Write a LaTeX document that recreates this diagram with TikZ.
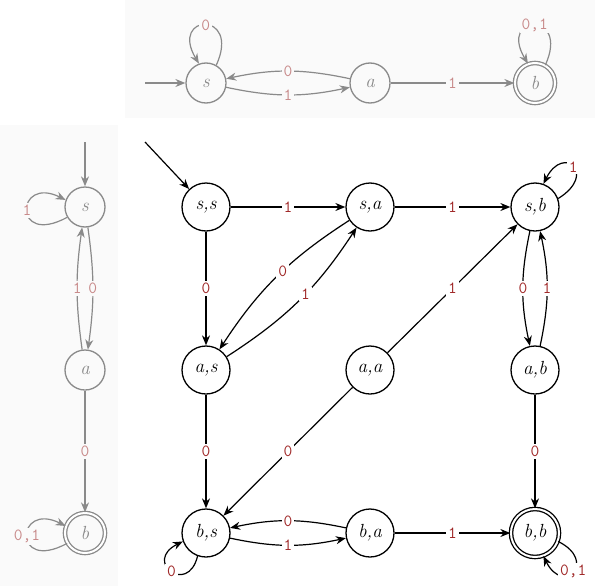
\documentclass[tikz,border=0pt]{standalone}
\usepackage{fontspec}
\usetikzlibrary{arrows.meta}
\definecolor{lab}{HTML}{A02828}
\definecolor{glab}{HTML}{C88A8A}
\definecolor{gline}{HTML}{8A8A8A}
\definecolor{bgc}{HTML}{FAFAFA}
\begin{document}
\begin{tikzpicture}[x=1pt,y=-1pt,
 st/.style={circle,draw,line width=1.3pt,minimum size=48pt,inner sep=0pt,font=\itshape\fontsize{19}{20}\selectfont},
 acc/.style={double,double distance=2pt},
 gst/.style={circle,draw=gline,line width=1.3pt,minimum size=40pt,inner sep=0pt,text=gline,font=\itshape\fontsize{19}{20}\selectfont},
 ed/.style={-{Stealth[length=10pt,width=8pt]},line width=1.2pt},
 ged/.style={ed,draw=gline},
 lb/.style={fill=white,text=lab,font=\ttfamily\fontsize{17}{18}\selectfont,inner sep=2pt},
 glb/.style={fill=bgc,text=glab,font=\ttfamily\fontsize{17}{18}\selectfont,inner sep=2pt}]
\useasboundingbox (0,0) rectangle (601,586);
\fill[bgc] (125,0) rectangle (595,118);
\fill[bgc] (0,125) rectangle (118,586);
% top automaton
\node[gst] (ts) at (206,83) {s};
\node[gst] (ta) at (370,83) {a};
\node[gst,acc] (tb) at (535,83) {b};
\coordinate (tin) at (145,83);
\draw[ged] (tin) -- (ts);
\draw[ged] (ts) to[bend right=12] node[glb]{1} (ta);
\draw[ged] (ta) to[bend right=12] node[glb]{0} (ts);
\draw[ged] (ta) -- node[glb]{1} (tb);
\draw[ged] (ts.60) .. controls +(25,-55) and +(-30,-50) .. node[glb,pos=0.5]{0} (ts.110);
\draw[ged] (tb.60) .. controls +(25,-55) and +(-30,-50) .. node[glb,pos=0.5]{0,1} (tb.110);
% left automaton
\node[gst] (ls) at (85,207) {s};
\node[gst] (la) at (85,370) {a};
\node[gst,acc] (lb) at (85,533) {b};
\coordinate (lin) at (85,142);
\draw[ged] (lin) -- (ls);
\draw[ged] (ls) to[bend left=8] node[glb]{0} (la);
\draw[ged] (la) to[bend left=8] node[glb]{1} (ls);
\draw[ged] (la) -- node[glb]{0} (lb);
\draw[ged] (ls.210) .. controls +(-55,30) and +(-50,-25) .. node[glb,pos=0.5]{1} (ls.160);
\draw[ged] (lb.210) .. controls +(-55,30) and +(-50,-25) .. node[glb,pos=0.5]{0,1} (lb.160);
% product
\node[st] (ss) at (206,207) {s,s};
\node[st] (sa) at (370,207) {s,a};
\node[st] (sb) at (535,207) {s,b};
\node[st] (as) at (206,370) {a,s};
\node[st] (aa) at (370,370) {a,a};
\node[st] (ab) at (535,370) {a,b};
\node[st] (bs) at (206,533) {b,s};
\node[st] (ba) at (370,533) {b,a};
\node[st,acc] (bb) at (535,533) {b,b};
\coordinate (min) at (145,142);
\draw[ed] (min) -- (ss);
\draw[ed] (ss) -- node[lb]{1} (sa);
\draw[ed] (sa) -- node[lb]{1} (sb);
\draw[ed] (ss) -- node[lb]{0} (as);
\draw[ed] (sa) to[bend right=12] node[lb,pos=0.45]{0} (as);
\draw[ed] (as) to[bend right=12] node[lb,pos=0.55]{1} (sa);
\draw[ed] (sb) to[bend right=12] node[lb]{0} (ab);
\draw[ed] (ab) to[bend right=12] node[lb]{1} (sb);
\draw[ed] (aa) -- node[lb]{1} (sb);
\draw[ed] (aa) -- node[lb]{0} (bs);
\draw[ed] (as) -- node[lb]{0} (bs);
\draw[ed] (ab) -- node[lb]{0} (bb);
\draw[ed] (bs) to[bend right=12] node[lb]{1} (ba);
\draw[ed] (ba) to[bend right=12] node[lb]{0} (bs);
\draw[ed] (ba) -- node[lb]{1} (bb);
\draw[ed] (sb.20) .. controls +(40,-25) and +(20,-40) .. node[lb,pos=0.5]{1} (sb.70);
\draw[ed] (bs.250) .. controls +(-10,40) and +(-40,20) .. node[lb,pos=0.5]{0} (bs.200);
\draw[ed] (bb.340) .. controls +(40,20) and +(20,40) .. node[lb,pos=0.5]{0,1} (bb.290);
\end{tikzpicture}
\end{document}
